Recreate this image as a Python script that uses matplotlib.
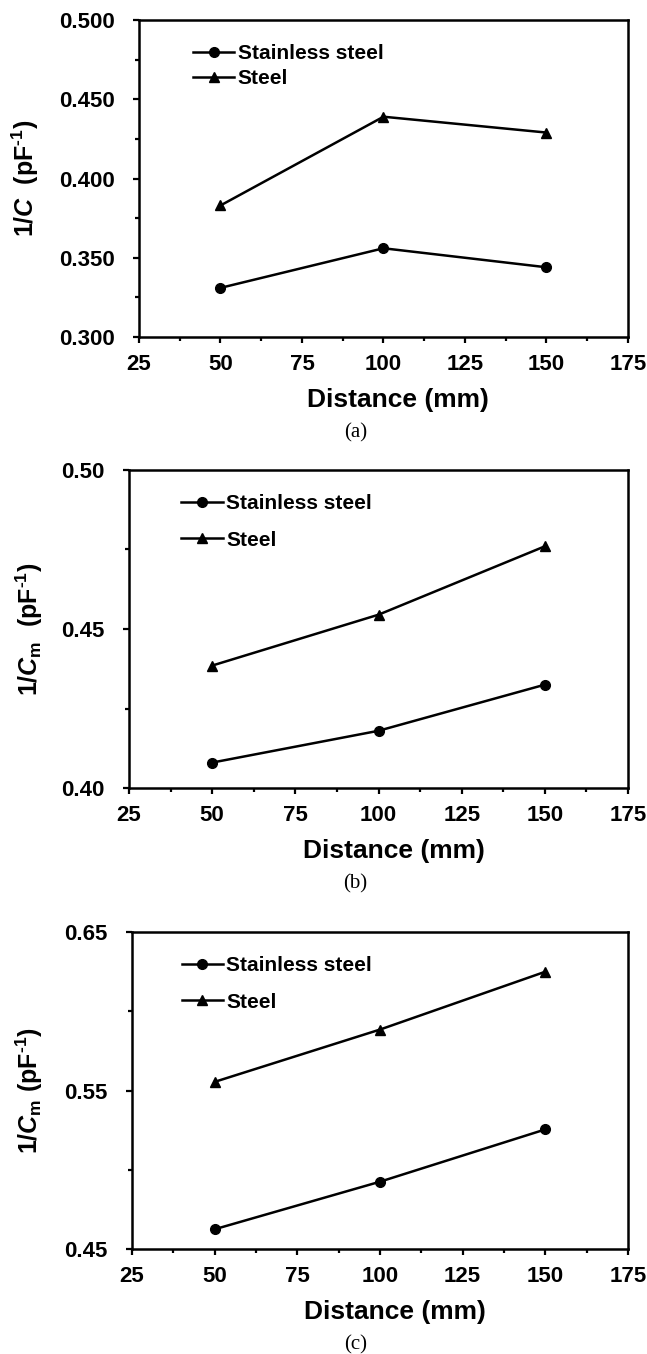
#!/usr/bin/env python
"""Inverse capacitance vs. distance for stainless steel and steel, panels (a)-(c)."""
import matplotlib

matplotlib.use("Agg")
import matplotlib.pyplot as plt
from matplotlib.ticker import FormatStrFormatter, MultipleLocator

distance = [50, 100, 150]

# (a) 1/C
a_stainless = [0.331, 0.356, 0.344]
a_steel = [0.383, 0.439, 0.429]
# (b) 1/Cm
b_stainless = [0.408, 0.418, 0.4325]
b_steel = [0.4385, 0.4545, 0.476]
# (c) 1/Cm
c_stainless = [0.4625, 0.4925, 0.5255]
c_steel = [0.5555, 0.5885, 0.625]

series_labels = ["Stainless steel", "Steel"]
captions = ["(a)", "(b)", "(c)"]
ylabels = [
    r"1/$C$  (pF$^{\text{-1}}$)",
    r"1/$C_{\mathrm{m}}$  (pF$^{\text{-1}}$)",
    r"1/$C_{\mathrm{m}}$ (pF$^{\text{-1}}$)",
]

plt.rcParams["font.family"] = ["Liberation Sans", "DejaVu Sans"]
plt.rcParams["font.weight"] = "bold"
plt.rcParams["mathtext.fontset"] = "custom"
plt.rcParams["mathtext.rm"] = "Liberation Sans:bold"
plt.rcParams["mathtext.it"] = "Liberation Sans:italic:bold"
plt.rcParams["mathtext.bf"] = "Liberation Sans:bold"


def draw_panel(ax, stainless, steel, ylim, ymajor, yfmt, ylabel, ylabel_x, legend_xy, labelspacing):
    ax.plot(distance, stainless, "-o", color="black", lw=1.8, ms=7, label=series_labels[0])
    ax.plot(distance, steel, "-^", color="black", lw=1.8, ms=6.5, label=series_labels[1])
    ax.set_xlim(25, 175)
    ax.set_ylim(*ylim)
    ax.xaxis.set_major_locator(MultipleLocator(25))
    ax.xaxis.set_minor_locator(MultipleLocator(12.5))
    ax.yaxis.set_major_locator(MultipleLocator(ymajor, offset=ylim[0] % ymajor))
    ax.yaxis.set_minor_locator(MultipleLocator(ymajor / 2, offset=ylim[0] % (ymajor / 2)))
    ax.yaxis.set_major_formatter(FormatStrFormatter(yfmt))
    for spine in ax.spines.values():
        spine.set_linewidth(1.8)
    ax.tick_params(which="major", direction="out", length=4.5, width=1.6, labelsize=16)
    ax.tick_params(which="minor", direction="out", length=2.8, width=1.6)
    ax.tick_params(axis="y", which="major", pad=13)
    ax.tick_params(axis="x", which="major", pad=8)
    ax.set_xlabel("Distance (mm)", fontsize=19, fontweight="bold")
    ax.xaxis.set_label_coords(0.53, -0.16)
    ax.set_ylabel(ylabel, fontsize=18, fontweight="bold", va="center")
    ax.yaxis.set_label_coords(ylabel_x, 0.5)
    ax.legend(loc="upper left", bbox_to_anchor=legend_xy, frameon=False,
              borderpad=0, borderaxespad=0, handlelength=2.0, handletextpad=0.15,
              labelspacing=labelspacing, prop={"weight": "bold", "size": 15})


def main() -> None:
    fig = plt.figure(figsize=(6.47, 13.54), dpi=100)
    ax_a = fig.add_axes([0.2148, 0.7511, 0.7558, 0.2341])
    ax_b = fig.add_axes([0.1994, 0.4180, 0.7713, 0.2349])
    ax_c = fig.add_axes([0.2040, 0.0775, 0.7666, 0.2341])

    draw_panel(ax_a, a_stainless, a_steel, (0.300, 0.500), 0.05, "%.3f",
               ylabels[0], -0.232, (0.11, 0.925), 0.3)
    draw_panel(ax_b, b_stainless, b_steel, (0.40, 0.50), 0.05, "%.2f",
               ylabels[1], -0.2, (0.105, 0.925), 0.85)
    draw_panel(ax_c, c_stainless, c_steel, (0.45, 0.65), 0.10, "%.2f",
               ylabels[2], -0.208, (0.10, 0.925), 0.85)

    for ax, cap in zip([ax_a, ax_b, ax_c], captions):
        bbox = ax.get_position()
        fig.text(0.549, bbox.y0 - 96 / 1354, cap, ha="center", va="center",
                 fontsize=15, family="Liberation Serif", fontweight="normal")

    fig.savefig("out.png", dpi=100, facecolor="white")
    plt.close(fig)


if __name__ == "__main__":
    main()
